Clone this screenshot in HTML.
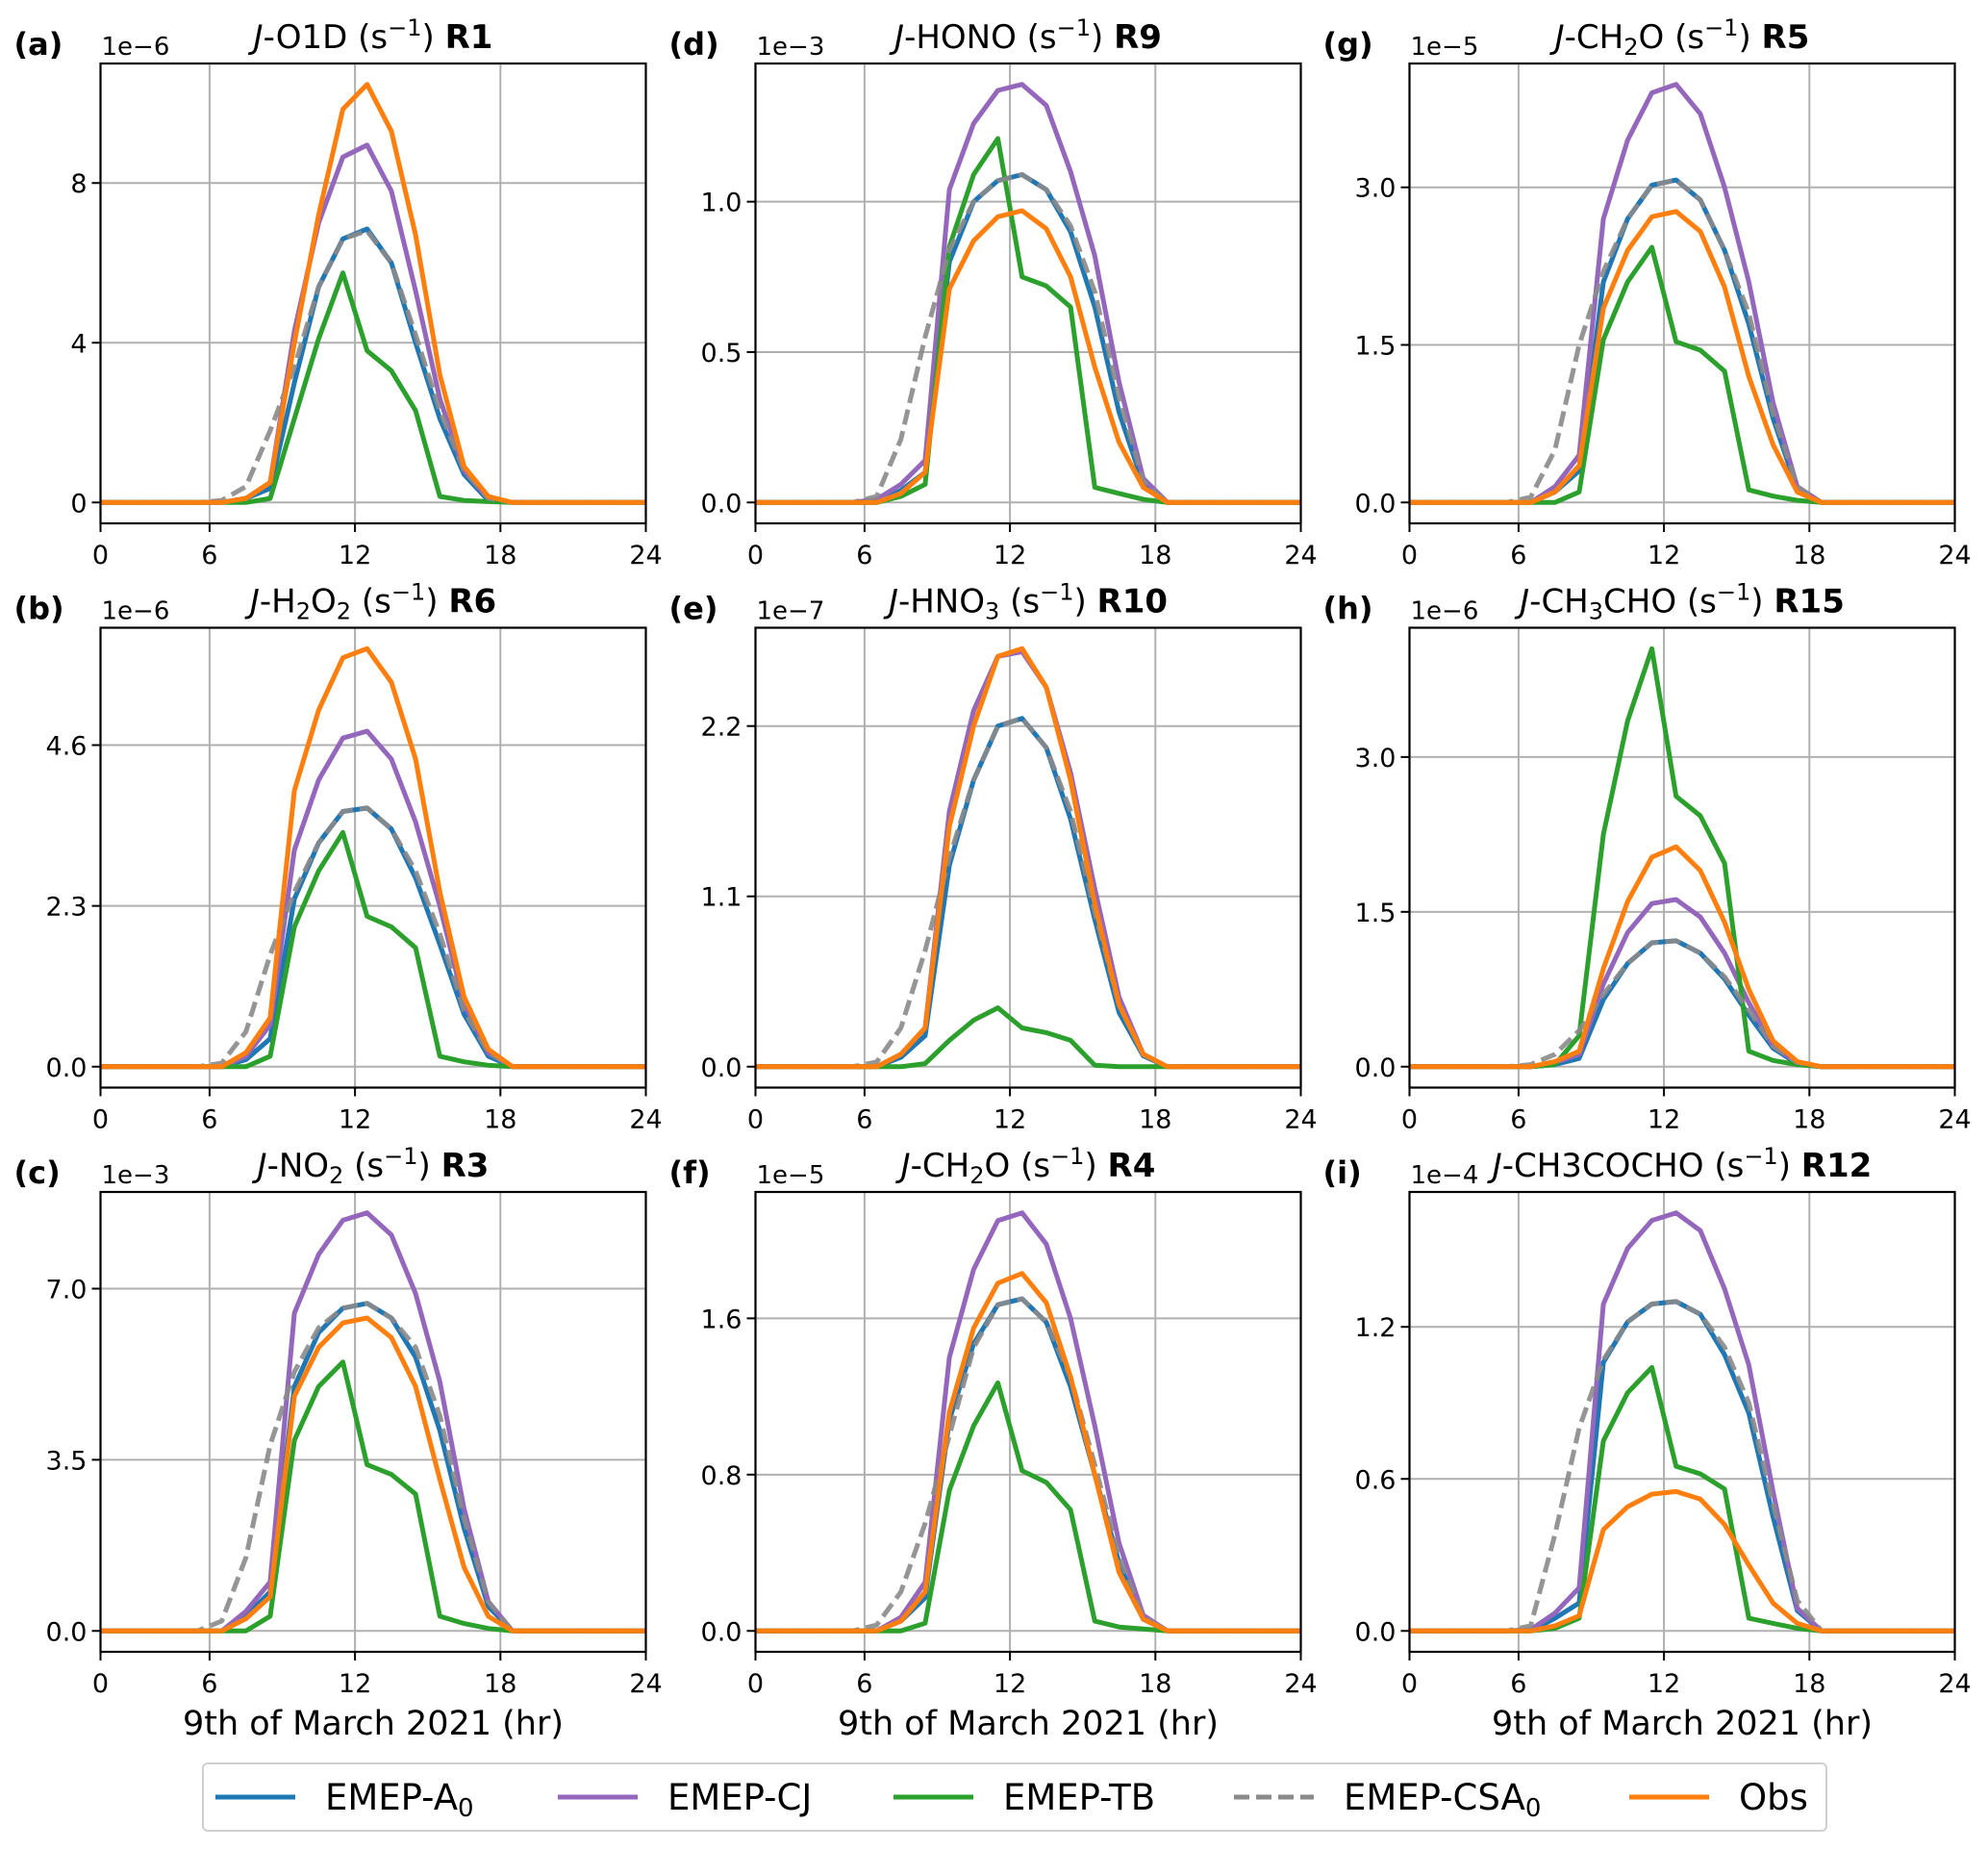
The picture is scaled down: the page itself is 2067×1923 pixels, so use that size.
<!DOCTYPE html>
<html><head><meta charset="utf-8">
<style>
html,body{margin:0;padding:0;background:#fff;}
svg{display:block;font-family:"DejaVu Sans","Liberation Sans",sans-serif;}
</style></head>
<body>
<svg id="fig" width="2067" height="1923" viewBox="0 0 2067 1923" xmlns="http://www.w3.org/2000/svg"></svg>
<script>
// hours at which values are sampled (plotted at hour mid-points)
const hours = [5.5,6.5,7.5,8.5,9.5,10.5,11.5,12.5,13.5,14.5,15.5,16.5,17.5,18.5,19.5];
const xTickVals = [1.5,6,12,18,24];
const xTickLabels = ["0","6","12","18","24"];
const seriesNames = ["EMEP-A0","EMEP-CJ","EMEP-TB","EMEP-CSA0","Obs"];

// panel (a) J-O1D  1e-6
const aA0  = [0,0,0.1,0.35,3.0,5.4,6.6,6.85,6.0,4.0,2.1,0.7,0.05,0,0];
const aCJ  = [0,0,0.1,0.5,4.3,7.0,8.65,8.95,7.8,5.3,2.6,0.8,0.1,0,0];
const aTB  = [0,0,0,0.1,2.1,4.1,5.75,3.8,3.3,2.3,0.15,0.05,0.02,0,0];
const aCSA = [0,0.05,0.4,1.8,3.4,5.4,6.6,6.8,6.0,4.2,2.3,0.8,0.1,0,0];
const aObs = [0,0,0.1,0.5,4.0,7.2,9.85,10.47,9.3,6.7,3.2,0.9,0.15,0,0];
const aTicks = [0,4,8]; const aTickLabels = ["0","4","8"];
// panel (b) J-H2O2 1e-6
const bA0  = [0,0,0.1,0.4,2.4,3.2,3.65,3.7,3.4,2.7,1.75,0.75,0.15,0,0];
const bCJ  = [0,0,0.15,0.6,3.1,4.1,4.7,4.8,4.4,3.5,2.3,0.9,0.2,0,0];
const bTB  = [0,0,0,0.15,2.0,2.8,3.35,2.15,2.0,1.7,0.15,0.07,0.02,0,0];
const bCSA = [0,0.05,0.5,1.6,2.5,3.2,3.65,3.7,3.4,2.8,1.9,0.8,0.2,0,0];
const bObs = [0,0,0.2,0.7,3.95,5.1,5.85,5.98,5.5,4.4,2.5,1.0,0.25,0,0];
const bTicks = [0,2.3,4.6]; const bTickLabels = ["0.0","2.3","4.6"];
// panel (c) J-NO2 1e-3
const cA0  = [0,0,0.3,0.8,5.0,6.1,6.6,6.7,6.4,5.6,4.1,2.1,0.5,0,0];
const cCJ  = [0,0,0.4,1.0,6.5,7.7,8.4,8.55,8.1,6.9,5.1,2.5,0.6,0,0];
const cTB  = [0,0,0,0.3,3.9,5.0,5.5,3.4,3.2,2.8,0.3,0.15,0.05,0,0];
const cCSA = [0,0.2,1.5,3.8,5.3,6.2,6.6,6.7,6.4,5.8,4.4,2.3,0.6,0,0];
const cObs = [0,0,0.25,0.7,4.8,5.8,6.3,6.4,6.0,5.0,3.1,1.3,0.3,0,0];
const cTicks = [0,3.5,7.0]; const cTickLabels = ["0.0","3.5","7.0"];
// panel (d) J-HONO 1e-3
const dA0  = [0,0,0.04,0.1,0.8,1.0,1.07,1.09,1.04,0.9,0.65,0.3,0.06,0,0];
const dCJ  = [0,0.01,0.06,0.14,1.04,1.26,1.37,1.39,1.32,1.1,0.82,0.4,0.08,0,0];
const dTB  = [0,0,0.02,0.06,0.85,1.09,1.21,0.75,0.72,0.65,0.05,0.03,0.01,0,0];
const dCSA = [0,0.02,0.21,0.55,0.84,1.0,1.07,1.09,1.04,0.92,0.7,0.35,0.07,0,0];
const dObs = [0,0,0.03,0.1,0.71,0.87,0.95,0.97,0.91,0.75,0.45,0.2,0.05,0,0];
const dTicks = [0,0.5,1.0]; const dTickLabels = ["0.0","0.5","1.0"];
// panel (e) J-HNO3 1e-7
const eA0  = [0,0,0.06,0.2,1.3,1.85,2.2,2.25,2.06,1.6,0.95,0.35,0.07,0,0];
const eCJ  = [0,0,0.08,0.25,1.65,2.3,2.65,2.68,2.45,1.9,1.15,0.45,0.08,0,0];
const eTB  = [0,0,0,0.02,0.17,0.3,0.38,0.25,0.22,0.17,0.01,0,0,0,0];
const eCSA = [0,0.03,0.25,0.75,1.35,1.85,2.2,2.25,2.06,1.65,1.0,0.4,0.08,0,0];
const eObs = [0,0,0.08,0.25,1.55,2.2,2.65,2.7,2.45,1.85,1.05,0.4,0.08,0,0];
const eTicks = [0,1.1,2.2]; const eTickLabels = ["0.0","1.1","2.2"];
// panel (f) J-CH2O R4 1e-5
const fA0  = [0,0,0.05,0.17,1.08,1.47,1.67,1.7,1.58,1.25,0.8,0.35,0.06,0,0];
const fCJ  = [0,0,0.07,0.25,1.4,1.85,2.1,2.14,1.98,1.6,1.05,0.45,0.08,0,0];
const fTB  = [0,0,0,0.04,0.72,1.05,1.27,0.82,0.76,0.62,0.05,0.02,0.01,0,0];
const fCSA = [0,0.03,0.2,0.55,1.0,1.45,1.67,1.7,1.58,1.3,0.85,0.38,0.07,0,0];
const fObs = [0,0,0.05,0.2,1.12,1.55,1.78,1.83,1.68,1.3,0.8,0.3,0.06,0,0];
const fTicks = [0,0.8,1.6]; const fTickLabels = ["0.0","0.8","1.6"];
// panel (g) J-CH2O R5 1e-5
const gA0  = [0,0,0.1,0.3,2.1,2.7,3.02,3.07,2.88,2.4,1.7,0.8,0.12,0,0];
const gCJ  = [0,0,0.15,0.45,2.7,3.45,3.9,3.98,3.7,3.0,2.1,0.95,0.15,0,0];
const gTB  = [0,0,0,0.1,1.55,2.1,2.43,1.53,1.45,1.25,0.12,0.06,0.02,0,0];
const gCSA = [0,0.05,0.5,1.5,2.2,2.7,3.02,3.07,2.88,2.4,1.8,0.85,0.15,0,0];
const gObs = [0,0,0.1,0.35,1.85,2.4,2.72,2.77,2.58,2.05,1.2,0.55,0.1,0,0];
const gTicks = [0,1.5,3.0]; const gTickLabels = ["0.0","1.5","3.0"];
// panel (h) J-CH3CHO 1e-6
const hA0  = [0,0,0.02,0.08,0.65,1.0,1.2,1.22,1.1,0.85,0.5,0.18,0.03,0,0];
const hCJ  = [0,0,0.04,0.12,0.8,1.3,1.58,1.62,1.45,1.1,0.62,0.2,0.04,0,0];
const hTB  = [0,0,0.02,0.3,2.25,3.35,4.05,2.62,2.43,1.97,0.15,0.06,0.02,0,0];
const hCSA = [0,0.02,0.12,0.35,0.7,1.0,1.2,1.22,1.1,0.87,0.55,0.2,0.04,0,0];
const hObs = [0,0,0.05,0.15,0.95,1.6,2.03,2.13,1.9,1.4,0.75,0.25,0.05,0,0];
const hTicks = [0,1.5,3.0]; const hTickLabels = ["0.0","1.5","3.0"];
// panel (i) J-CH3COCHO 1e-4
const iA0  = [0,0,0.05,0.11,1.06,1.22,1.29,1.3,1.25,1.09,0.86,0.45,0.08,0,0];
const iCJ  = [0,0.005,0.07,0.17,1.29,1.51,1.62,1.65,1.58,1.35,1.05,0.55,0.09,0,0];
const iTB  = [0,0,0.01,0.05,0.75,0.94,1.04,0.65,0.62,0.56,0.05,0.03,0.01,0,0];
const iCSA = [0,0.02,0.38,0.8,1.07,1.22,1.29,1.3,1.25,1.12,0.9,0.5,0.12,0,0];
const iObs = [0,0,0.02,0.06,0.4,0.49,0.54,0.55,0.52,0.42,0.26,0.11,0.03,0,0];
const iTicks = [0,0.6,1.2]; const iTickLabels = ["0.0","0.6","1.2"];

const NS = "http://www.w3.org/2000/svg";
const svg = document.getElementById("fig");
function mk(tag, attrs, parent){
  const e = document.createElementNS(NS, tag);
  for (const k in attrs) e.setAttribute(k, attrs[k]);
  (parent||svg).appendChild(e);
  return e;
}
const colors = ["#1f77b4","#9467bd","#2ca02c","#8a8a8a","#ff7f0e"];
const colL = [104.5, 785.5, 1465.5], W = 567;
const rowT = [66, 652.5, 1239], H = 478;

const panels = [
 {id:"a",col:0,row:0,exp:"1e\u22126",s:[aA0,aCJ,aTB,aCSA,aObs],t:aTicks,tl:aTickLabels,title:[["J","i"],["-O1D (s","n"],["\u22121","sup"],[") ","n"],["R1","b"]]},
 {id:"b",col:0,row:1,exp:"1e\u22126",s:[bA0,bCJ,bTB,bCSA,bObs],t:bTicks,tl:bTickLabels,title:[["J","i"],["-H","n"],["2","sub"],["O","n"],["2","sub"],[" (s","n"],["\u22121","sup"],[") ","n"],["R6","b"]]},
 {id:"c",col:0,row:2,exp:"1e\u22123",s:[cA0,cCJ,cTB,cCSA,cObs],t:cTicks,tl:cTickLabels,title:[["J","i"],["-NO","n"],["2","sub"],[" (s","n"],["\u22121","sup"],[") ","n"],["R3","b"]]},
 {id:"d",col:1,row:0,exp:"1e\u22123",s:[dA0,dCJ,dTB,dCSA,dObs],t:dTicks,tl:dTickLabels,title:[["J","i"],["-HONO (s","n"],["\u22121","sup"],[") ","n"],["R9","b"]]},
 {id:"e",col:1,row:1,exp:"1e\u22127",s:[eA0,eCJ,eTB,eCSA,eObs],t:eTicks,tl:eTickLabels,title:[["J","i"],["-HNO","n"],["3","sub"],[" (s","n"],["\u22121","sup"],[") ","n"],["R10","b"]]},
 {id:"f",col:1,row:2,exp:"1e\u22125",s:[fA0,fCJ,fTB,fCSA,fObs],t:fTicks,tl:fTickLabels,title:[["J","i"],["-CH","n"],["2","sub"],["O (s","n"],["\u22121","sup"],[") ","n"],["R4","b"]]},
 {id:"g",col:2,row:0,exp:"1e\u22125",s:[gA0,gCJ,gTB,gCSA,gObs],t:gTicks,tl:gTickLabels,title:[["J","i"],["-CH","n"],["2","sub"],["O (s","n"],["\u22121","sup"],[") ","n"],["R5","b"]]},
 {id:"h",col:2,row:1,exp:"1e\u22126",s:[hA0,hCJ,hTB,hCSA,hObs],t:hTicks,tl:hTickLabels,title:[["J","i"],["-CH","n"],["3","sub"],["CHO (s","n"],["\u22121","sup"],[") ","n"],["R15","b"]]},
 {id:"i",col:2,row:2,exp:"1e\u22124",s:[iA0,iCJ,iTB,iCSA,iObs],t:iTicks,tl:iTickLabels,title:[["J","i"],["-CH3COCHO (s","n"],["\u22121","sup"],[") ","n"],["R12","b"]]}
];

panels.forEach(p=>{
  const L = colL[p.col], T = rowT[p.row], R = L+W, B = T+H;
  let mx = 0; p.s.forEach(a=>a.forEach(v=>{ if(v>mx) mx=v; }));
  const y0 = -0.05*mx, y1 = 1.05*mx;
  const xs = u => L + (u-1.5)/(24-1.5)*W;
  const ys = v => B - (v-y0)/(y1-y0)*H;
  const g = mk("g",{});
  
  
  const clipId = "clip-"+p.id;
  const cp = mk("clipPath",{id:clipId},g); mk("rect",{x:L,y:T,width:W,height:H},cp);
  xTickVals.slice(1,4).forEach(v=>{
    const l = mk("line",{x1:xs(v),x2:xs(v),y1:T,y2:B,stroke:"#b0b0b0","stroke-width":2},g);
    
    
  });
  p.t.forEach(v=>{
    const l = mk("line",{x1:L,x2:R,y1:ys(v),y2:ys(v),stroke:"#b0b0b0","stroke-width":2},g);
    
    
  });
  [0,1,2,3,4].forEach(k=>{
    const arr = p.s[k];
    const pts = [[xs(1.5), ys(arr[0])]];
    arr.forEach((v,j)=>pts.push([xs(hours[j]), ys(v)]));
    pts.push([xs(24), ys(arr[arr.length-1])]);
    const attrs = {points:pts.map(q=>q[0].toFixed(1)+","+q[1].toFixed(1)).join(" "),fill:"none",stroke:colors[k],"stroke-width":5,"stroke-linejoin":"round","clip-path":"url(#"+clipId+")"};
    if(k===3){ attrs["stroke-dasharray"]="16,7"; attrs["stroke-opacity"]="0.9"; }
    const pl = mk("polyline",attrs,g);
    
    
  });
  const fr = mk("rect",{x:L,y:T,width:W,height:H,fill:"none",stroke:"#000","stroke-width":2.2},g);
  
  
  xTickVals.forEach((v,j)=>{
    mk("line",{x1:xs(v),x2:xs(v),y1:B,y2:B+9,stroke:"#000","stroke-width":2},g);
    const t = mk("text",{x:xs(v),y:B+42,"font-size":27,"text-anchor":"middle",fill:"#000"},g);
    t.textContent = xTickLabels[j];
    
    
  });
  p.t.forEach((v,j)=>{
    mk("line",{x1:L-9,x2:L,y1:ys(v),y2:ys(v),stroke:"#000","stroke-width":2},g);
    const t = mk("text",{x:L-14,y:ys(v)+10,"font-size":27,"text-anchor":"end",fill:"#000"},g);
    t.textContent = p.tl[j];
    
    
  });
  const ot = mk("text",{x:L+1,y:T-9,"font-size":26,fill:"#000"},g);
  ot.textContent = p.exp;
  
  
  const pl = mk("text",{x:L-90,y:T-9,"font-size":32,"font-weight":"bold",fill:"#000"},g);
  pl.textContent = "("+p.id+")";
  
  
  const tt = mk("text",{x:L+W/2,y:T-16,"font-size":34,"text-anchor":"middle",fill:"#000"},g);
  
  
  let shift = 0;
  p.title.forEach(([s,st])=>{
    const ts = mk("tspan",{},tt);
    let target = 0;
    if(st==="i") ts.setAttribute("font-style","italic");
    if(st==="b") ts.setAttribute("font-weight","bold");
    if(st==="sub"){ ts.setAttribute("font-size","24"); target = 7; }
    if(st==="sup"){ ts.setAttribute("font-size","24"); target = -13; }
    if(target!==shift){ ts.setAttribute("dy", target-shift); shift = target; }
    ts.textContent = s;
  });
  if(p.row===2){
    const xl = mk("text",{x:L+W/2,y:1803,"font-size":35,"text-anchor":"middle",fill:"#000"},g);
    xl.textContent = "9th of March 2021 (hr)";
    
    
  }
});

const lg = mk("g",{});


mk("rect",{x:211,y:1833,width:1688,height:70,rx:5,fill:"#fff",stroke:"#d0d0d0","stroke-width":2},lg);
const legX = [224,580,929,1283,1694];
const legLabels = [["EMEP-A","0"],["EMEP-CJ",""],["EMEP-TB",""],["EMEP-CSA","0"],["Obs",""]];
legX.forEach((x,k)=>{
  const e = mk("g",{},lg);
  
  
  const la = {x1:x,x2:x+83,y1:1868,y2:1868,stroke:colors[k],"stroke-width":5};
  if(k===3) la["stroke-dasharray"]="16,7";
  mk("line",la,e);
  const t = mk("text",{x:x+114,y:1881,"font-size":37,fill:"#000"},e);
  const a = mk("tspan",{},t); a.textContent = legLabels[k][0];
  if(legLabels[k][1]){ const b = mk("tspan",{"font-size":26,dy:7},t); b.textContent = legLabels[k][1]; }
});
</script>
</body></html>
